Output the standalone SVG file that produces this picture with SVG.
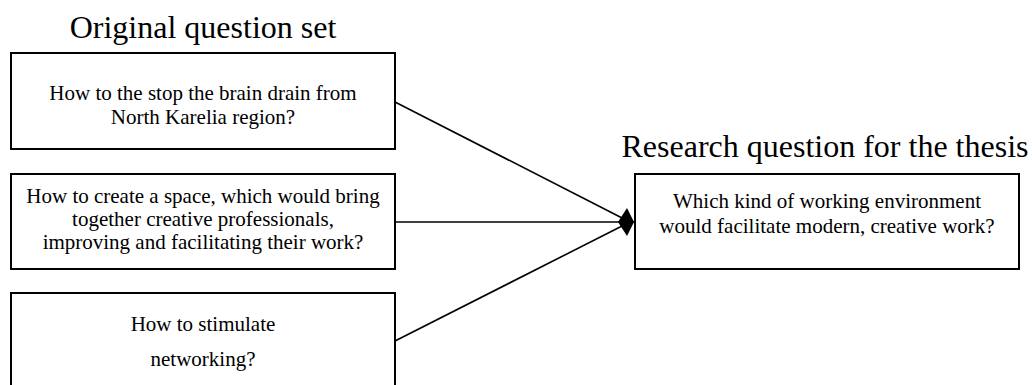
<svg xmlns="http://www.w3.org/2000/svg" width="1032" height="385" viewBox="0 0 1032 385">
<style>
.box{fill:#fff;stroke:#000;stroke-width:2}
.t{font-family:"Liberation Serif","Times New Roman",serif;font-size:21px;fill:#000;text-anchor:middle}
.h{font-family:"Liberation Serif","Times New Roman",serif;font-size:32px;fill:#000;text-anchor:middle}
.c{stroke:#000;stroke-width:1.6;fill:none}
</style>
<defs>
<marker id="dia" viewBox="0 0 16 28" refX="16" refY="14" markerWidth="16" markerHeight="28" markerUnits="userSpaceOnUse" orient="auto">
<polygon points="0,14 9,0 16,14 9,28" fill="#000"/>
</marker>
</defs>
<text class="h" x="203" y="38">Original question set</text>
<text class="h" x="825" y="157">Research question for the thesis</text>
<g id="connectors">
<line class="c" x1="395" y1="102" x2="626" y2="220"/>
<line class="c" x1="395" y1="341" x2="626" y2="224"/>
<line class="c" x1="395" y1="222" x2="634" y2="222" marker-end="url(#dia)"/>
</g>
<g id="q1">
<rect class="box" x="11" y="53" width="384" height="96"/>
<text class="t" x="203" y="100">How to the stop the brain drain from</text>
<text class="t" x="203" y="124">North Karelia region?</text>
</g>
<g id="q2">
<rect class="box" x="11" y="174" width="384" height="95"/>
<text class="t" x="203" y="203">How to create a space, which would bring</text>
<text class="t" x="203" y="226">together creative professionals,</text>
<text class="t" x="203" y="249">improving and facilitating their work?</text>
</g>
<g id="q3">
<rect class="box" x="11" y="293" width="384" height="110"/>
<text class="t" x="203" y="331">How to stimulate</text>
<text class="t" x="203" y="366">networking?</text>
</g>
<g id="rq">
<rect class="box" x="635" y="174" width="384" height="95"/>
<text class="t" x="827" y="208">Which kind of working environment</text>
<text class="t" x="827" y="233">would facilitate modern, creative work?</text>
</g>
</svg>
